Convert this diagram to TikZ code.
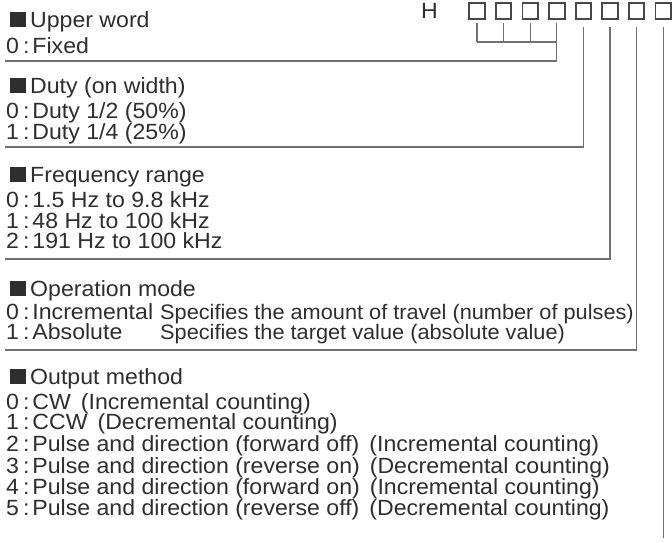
\documentclass[tikz,border=0pt]{standalone}
\usepackage{fontspec}
\setmainfont{Liberation Sans}[FakeStretch=1.05]
\newfontfamily\condf{Liberation Sans}[FakeStretch=1.035]
\definecolor{ink}{HTML}{2E2E2E}
\definecolor{lnc}{HTML}{707070}
\definecolor{boxc}{HTML}{484848}
\newcommand\sqm{{\color{ink}\rule{16pt}{15.5pt}}\hspace{4pt}}
\newcommand\cln{\hspace{4pt}:\hspace{3pt}}
\begin{document}
\begin{tikzpicture}[x=1pt,y=-1pt,
 txt/.style={anchor=base west,inner sep=0pt,font=\fontsize{22}{22}\selectfont,text=ink},
 ctxt/.style={txt,font=\condf\fontsize{21}{21}\selectfont},
 ln/.style={draw=lnc,line width=1.3pt},
 bx/.style={draw=boxc,line width=1.9pt,minimum width=15.5pt,minimum height=15.5pt,inner sep=0pt}]
\fill[white] (0,0) rectangle (672,542);
\useasboundingbox (0,0) rectangle (672,542);
% header
\node[txt] (H) at (421,18.5) {H};
\foreach \k in {1,...,8} \node[bx] (b\k) at ({477+26.6*(\k-1)},10.8) {};
% coordinates for connector ends
\coordinate (brk) at (0,42);
\coordinate (l1) at (5,61);
\coordinate (l2) at (5,147);
\coordinate (l3) at (5,259);
\coordinate (l4) at (5,350);
\coordinate (l5) at (0,538);
% connectors
\foreach \k in {1,2,3} \draw[ln] ([yshift=-3.5pt]b\k.south) -- (b\k.south |- brk);
\draw[ln] (b1.south |- brk) -- (b4.south |- brk);
\draw[ln] ([yshift=-3.5pt]b4.south) |- (l1);
\draw[ln] ([yshift=-7pt]b5.south) |- (l2);
\draw[ln] ([yshift=-7pt]b6.south) |- (l3);
\draw[ln] ([yshift=-7pt]b7.south) |- (l4);
\draw[ln] ([yshift=-7pt]b8.south) -- (b8.south |- l5);
% texts
\node[txt] (uh) at (10,27) {\sqm Upper word};
\node[txt] (u0) at (6,53.5) {0\cln Fixed};
\node[txt] (dh) at (10,93) {\sqm Duty (on width)};
\node[txt] (d0) at (6,118) {0\cln Duty 1/2 (50\%)};
\node[txt] (d1) at (6,139) {1\cln Duty 1/4 (25\%)};
\node[txt] (fh) at (10,182) {\sqm Frequency range};
\node[txt] (f0) at (6,207) {0\cln 1.5 Hz to 9.8 kHz};
\node[txt] (f1) at (6,228) {1\cln 48 Hz to 100 kHz};
\node[txt] (f2) at (6,248) {2\cln 191 Hz to 100 kHz};
\node[txt] (oh) at (10,296) {\sqm Operation mode};
\node[txt] (o0) at (6,319) {0\cln Incremental};
\node[txt] (o1) at (6,339.5) {1\cln Absolute};
\node[ctxt] (o0s) at (160,319) {Specifies the amount of travel (number of pulses)};
\node[ctxt] (o1s) at (160,339.5) {Specifies the target value (absolute value)};
\node[txt] (mh) at (10,384) {\sqm Output method};
\node[txt] (m0) at (6,409.5) {0\cln CW\hspace{10pt}(Incremental counting)};
\node[txt] (m1) at (6,429.5) {1\cln CCW\hspace{10pt}(Decremental counting)};
\node[txt] (m2) at (6,451.5) {2\cln Pulse and direction (forward off)\hspace{10pt}(Incremental counting)};
\node[txt] (m3) at (6,473) {3\cln Pulse and direction (reverse on)\hspace{10pt}(Decremental counting)};
\node[txt] (m4) at (6,494.5) {4\cln Pulse and direction (forward on)\hspace{10pt}(Incremental counting)};
\node[txt] (m5) at (6,515.5) {5\cln Pulse and direction (reverse off)\hspace{10pt}(Decremental counting)};
\end{tikzpicture}
\end{document}
